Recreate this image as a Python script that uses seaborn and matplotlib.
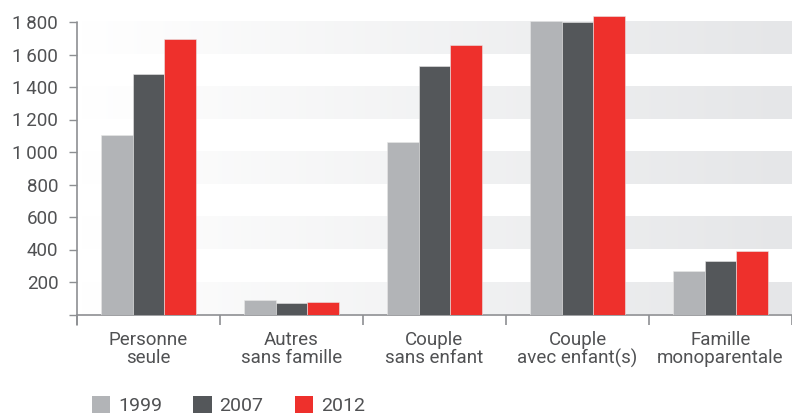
import numpy as np
import pandas as pd
import matplotlib
matplotlib.use("Agg")
import matplotlib.pyplot as plt
import seaborn as sns
from matplotlib.colors import LinearSegmentedColormap
from matplotlib.patches import Patch
from matplotlib.ticker import FuncFormatter

categories = ["Personne\nseule", "Autres\nsans famille", "Couple\nsans enfant",
              "Couple\navec enfant(s)", "Famille\nmonoparentale"]
years = ["1999", "2007", "2012"]
v1999 = [1105, 87, 1063, 1806, 268]
v2007 = [1478, 71, 1529, 1802, 329]
v2012 = [1698, 77, 1658, 1838, 391]
yticks = [0, 200, 400, 600, 800, 1000, 1200, 1400, 1600, 1800]
colors = ["#b2b4b7", "#54575a", "#ee302c"]

df = pd.DataFrame({
    "cat": categories * 3,
    "year": [y for y in years for _ in categories],
    "val": v1999 + v2007 + v2012,
})

sns.set_style("white")
plt.rcParams["font.family"] = ["Roboto", "DejaVu Sans"]
txt = "#505153"
axc = "#8d8f92"
fs = 13.5

fig = plt.figure(figsize=(7.92, 4.17), dpi=100)
ax = fig.add_axes([77/792, 1 - 314.5/417, 715/792, 314.5/417])

sns.barplot(data=df, x="cat", y="val", hue="year", palette=colors, width=0.67,
            ax=ax, saturation=1, edgecolor="#e8e8e8", linewidth=0.4, zorder=3)
ax.get_legend().remove()

ymax = 1800 + 22 / (292.5 / 1800)

# background gradient bands
cmap = LinearSegmentedColormap.from_list("g", ["#ffffff", "#e5e6e8"])
ncols = 300
grad = np.linspace(0.0, 1.0, ncols)
rows = []
for i in range(9):
    rows.append(grad if i % 2 == 0 else np.zeros(ncols))
img = np.array(rows)
ax.imshow(img, extent=(-0.5, 4.5, 0, 1800), origin="lower", aspect="auto",
          cmap=cmap, vmin=0, vmax=1, interpolation="nearest", zorder=0)
ax.set_xlim(-0.5, 4.5)
ax.set_ylim(0, ymax)

for s in ["top", "right", "left"]:
    ax.spines[s].set_visible(False)
ax.spines["bottom"].set_color(axc)
ax.spines["bottom"].set_linewidth(1.2)
# left spine extending below the axis
ax.plot([-0.5, -0.5], [-10 / 0.1625, 1800], color=axc, lw=1.2, clip_on=False, zorder=4)

ax.set_yticks(yticks)
ax.yaxis.set_major_formatter(FuncFormatter(
    lambda v, p: "" if v == 0 else f"{int(v):,}".replace(",", "\u202f")))
ax.tick_params(axis="y", direction="out", length=5.5, width=1.0, color=axc,
               labelcolor=txt, labelsize=fs, pad=8, left=True)

ax.set_xticks(range(len(categories)))
ax.set_xticklabels(categories, linespacing=1.0)
ax.set_xticks(np.arange(-0.5, 5.0, 1.0), minor=True)
ax.tick_params(axis="x", which="major", length=0, labelcolor=txt, labelsize=fs, pad=12)
ax.tick_params(axis="x", which="minor", direction="out", length=7.5, width=1.2,
               color=axc, bottom=True)
ax.set_xlabel("")
ax.set_ylabel("")

handles = [Patch(facecolor=c, edgecolor="none") for c in colors]
fig.legend(handles, years, loc="upper left", bbox_to_anchor=(92/792, 1 - 396/417),
           ncol=3, frameon=False, fontsize=14, handlelength=0.95, handleheight=0.95,
           handletextpad=0.4, columnspacing=1.6, borderpad=0, borderaxespad=0,
           labelcolor=txt)

fig.savefig("out.png", dpi=100)
